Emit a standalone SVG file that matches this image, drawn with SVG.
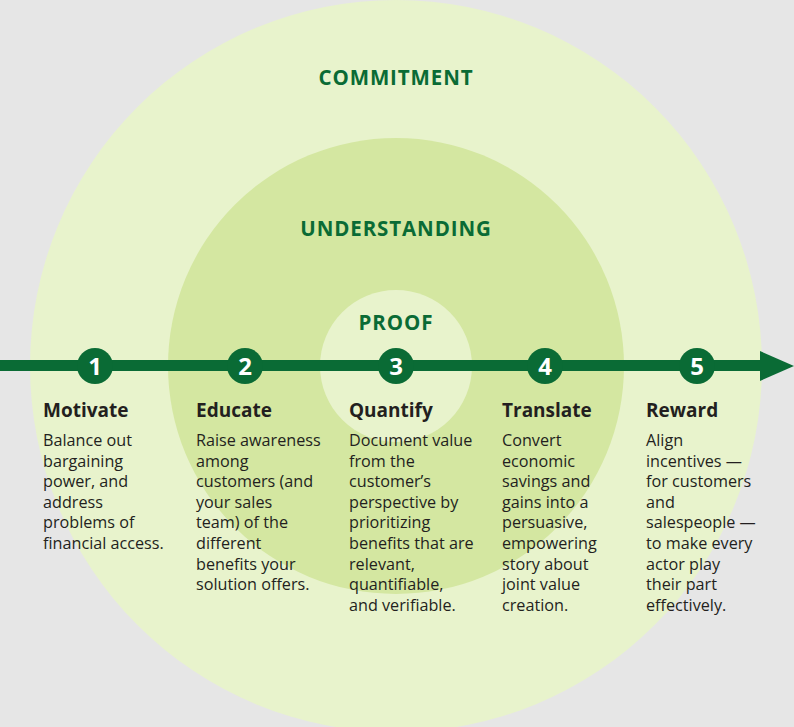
<svg xmlns="http://www.w3.org/2000/svg" width="794" height="727" viewBox="0 0 794 727">
<style>
.ring{font-family:"Open Sans","Noto Sans",sans-serif;font-weight:bold;font-size:20.5px;fill:#0a6b35;text-anchor:middle;letter-spacing:0.9px}
.num{font-family:"Open Sans","Noto Sans",sans-serif;font-weight:bold;font-size:24px;fill:#ffffff;text-anchor:middle}
.title{font-family:"Open Sans","Noto Sans",sans-serif;font-weight:bold;font-size:19px;fill:#231f20}
.body{font-family:"Open Sans","Noto Sans",sans-serif;font-size:16.2px;fill:#231f20}
.dot{fill:#0a6b35}
</style>
<rect width="794" height="727" fill="#e6e6e6"/>
<circle cx="396" cy="366" r="366" fill="#e8f3cc"/>
<circle cx="396" cy="366" r="228" fill="#d4e7a1"/>
<circle cx="396" cy="366" r="76" fill="#e8f3cc"/>
<text class="ring" x="396" y="85">COMMITMENT</text>
<text class="ring" x="396" y="236">UNDERSTANDING</text>
<text class="ring" x="396" y="330">PROOF</text>
<g id="connectors">
<rect x="0" y="360" width="764" height="11" fill="#0a6b35"/>
<polygon points="760,351 794,366 760,381" fill="#0a6b35"/>
</g>
<g id="step1">
<circle class="dot" cx="95" cy="366" r="18"/>
<text class="num" x="95" y="374.5">1</text>
<text class="title" x="43" y="417">Motivate</text>
<text class="body" x="43" y="446">Balance out<tspan x="43" dy="20.6">bargaining</tspan><tspan x="43" dy="20.6">power, and</tspan><tspan x="43" dy="20.6">address</tspan><tspan x="43" dy="20.6">problems of</tspan><tspan x="43" dy="20.6">financial access.</tspan></text>
</g>
<g id="step2">
<circle class="dot" cx="245" cy="366" r="18"/>
<text class="num" x="245" y="374.5">2</text>
<text class="title" x="196" y="417">Educate</text>
<text class="body" x="196" y="446">Raise awareness<tspan x="196" dy="20.6">among</tspan><tspan x="196" dy="20.6">customers (and</tspan><tspan x="196" dy="20.6">your sales</tspan><tspan x="196" dy="20.6">team) of the</tspan><tspan x="196" dy="20.6">different</tspan><tspan x="196" dy="20.6">benefits your</tspan><tspan x="196" dy="20.6">solution offers.</tspan></text>
</g>
<g id="step3">
<circle class="dot" cx="396" cy="366" r="18"/>
<text class="num" x="396" y="374.5">3</text>
<text class="title" x="349" y="417">Quantify</text>
<text class="body" x="349" y="446">Document value<tspan x="349" dy="20.6">from the</tspan><tspan x="349" dy="20.6">customer’s</tspan><tspan x="349" dy="20.6">perspective by</tspan><tspan x="349" dy="20.6">prioritizing</tspan><tspan x="349" dy="20.6">benefits that are</tspan><tspan x="349" dy="20.6">relevant,</tspan><tspan x="349" dy="20.6">quantifiable,</tspan><tspan x="349" dy="20.6">and verifiable.</tspan></text>
</g>
<g id="step4">
<circle class="dot" cx="545" cy="366" r="18"/>
<text class="num" x="545" y="374.5">4</text>
<text class="title" x="502" y="417">Translate</text>
<text class="body" x="502" y="446">Convert<tspan x="502" dy="20.6">economic</tspan><tspan x="502" dy="20.6">savings and</tspan><tspan x="502" dy="20.6">gains into a</tspan><tspan x="502" dy="20.6">persuasive,</tspan><tspan x="502" dy="20.6">empowering</tspan><tspan x="502" dy="20.6">story about</tspan><tspan x="502" dy="20.6">joint value</tspan><tspan x="502" dy="20.6">creation.</tspan></text>
</g>
<g id="step5">
<circle class="dot" cx="697" cy="366" r="18"/>
<text class="num" x="697" y="374.5">5</text>
<text class="title" x="646" y="417">Reward</text>
<text class="body" x="646" y="446">Align<tspan x="646" dy="20.6">incentives —</tspan><tspan x="646" dy="20.6">for customers</tspan><tspan x="646" dy="20.6">and</tspan><tspan x="646" dy="20.6">salespeople —</tspan><tspan x="646" dy="20.6">to make every</tspan><tspan x="646" dy="20.6">actor play</tspan><tspan x="646" dy="20.6">their part</tspan><tspan x="646" dy="20.6">effectively.</tspan></text>
</g>
</svg>
